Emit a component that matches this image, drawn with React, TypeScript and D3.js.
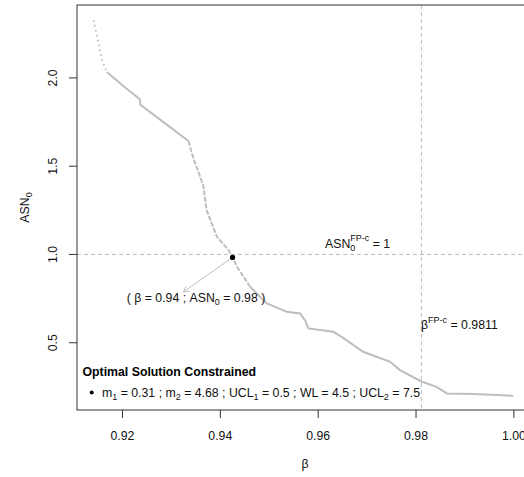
import React from "react";
import * as d3 from "d3";

// ---- data ----
const betaValues = [
  0.9141, 0.9151, 0.9158, 0.9168, 0.9201, 0.9236, 0.9236, 0.9285, 0.9335, 0.9338,
  0.9345, 0.9365, 0.9372, 0.9393, 0.9417, 0.9425, 0.9434, 0.9461, 0.9495, 0.9536,
  0.9563, 0.9573, 0.958, 0.9631, 0.9648, 0.9692, 0.9747, 0.9767, 0.9812, 0.9842,
  0.9863, 0.9917, 0.9978, 0.9999,
];
const asnValues = [
  2.327, 2.195, 2.1, 2.034, 1.956, 1.878, 1.849, 1.747, 1.643, 1.609,
  1.544, 1.392, 1.251, 1.1, 1.024, 0.983, 0.93, 0.817, 0.723, 0.675,
  0.666, 0.628, 0.581, 0.562, 0.533, 0.449, 0.392, 0.345, 0.279, 0.25,
  0.213, 0.209, 0.203, 0.199,
];
// sparse (dotted-looking) stretches of the point cloud, as beta ranges
const sparseRanges: [number, number][] = [[0.9141, 0.9168]];
const semiSparseRanges: [number, number][] = [[0.9335, 0.9461]];

const optimum = { beta: 0.9425, asn: 0.983 };
const arrowEnd = { beta: 0.93246, asn: 0.788 };
const betaFP = 0.9811;
const asnFP = 1;

const xTicks = [0.92, 0.94, 0.96, 0.98, 1.0];
const yTicks = [0.5, 1.0, 1.5, 2.0];

const FONT = "'Liberation Sans', Arial, Helvetica, sans-serif";
const FS = 12.3;
const SUB = 9;

export default function App() {
  const W = 524, H = 477;
  const left = 77, top = 5, bottom = 410, right = 531;
  const x = d3.scaleLinear().domain([0.9107, 1.0035]).range([left, right]);
  const y = d3.scaleLinear().domain([0.119, 2.413]).range([bottom, top]);

  const pts = betaValues.map((b, i) => ({ b, a: asnValues[i] }));
  const styleOf = (b: number) => {
    if (sparseRanges.some(([lo, hi]) => b >= lo && b <= hi)) return "dot";
    if (semiSparseRanges.some(([lo, hi]) => b >= lo && b <= hi)) return "dash";
    return "solid";
  };
  // group consecutive segments by style
  const groups: { style: string; p: { b: number; a: number }[] }[] = [];
  for (let i = 0; i < pts.length - 1; i++) {
    const st = styleOf((pts[i].b + pts[i + 1].b) / 2);
    const g = groups[groups.length - 1];
    if (g && g.style === st) g.p.push(pts[i + 1]);
    else groups.push({ style: st, p: [pts[i], pts[i + 1]] });
  }
  const line = d3
    .line<{ b: number; a: number }>()
    .x((d) => x(d.b))
    .y((d) => y(d.a));
  const dashFor: Record<string, string | undefined> = {
    dot: "1.5,3.5",
    dash: "5,1.5",
    solid: undefined,
  };

  // arrow
  const ox = x(optimum.beta), oy = y(optimum.asn);
  const ax = x(arrowEnd.beta), ay = y(arrowEnd.asn);
  const ang = Math.atan2(ay - oy, ax - ox);
  const hl = 6, ha = Math.PI / 6;
  const h1 = [ax - hl * Math.cos(ang - ha), ay - hl * Math.sin(ang - ha)];
  const h2 = [ax - hl * Math.cos(ang + ha), ay - hl * Math.sin(ang + ha)];

  const grey = "#bebebe";

  return (
    <svg
      width={W}
      height={H}
      style={{ position: "absolute", left: 0, top: 0, background: "#fff" }}
      fontFamily={FONT}
      fontSize={FS}
    >
      <rect x={0} y={0} width={W} height={H} fill="#fff" />
      {/* reference lines */}
      <line x1={left} x2={right} y1={y(asnFP)} y2={y(asnFP)} stroke={grey} strokeDasharray="4,3" />
      <line x1={x(betaFP)} x2={x(betaFP)} y1={top} y2={bottom} stroke={grey} strokeDasharray="4,3" />

      {/* curve */}
      {groups.map((g, i) => (
        <path
          key={i}
          d={line(g.p) || ""}
          fill="none"
          stroke={grey}
          strokeWidth={2}
          strokeDasharray={dashFor[g.style]}
        />
      ))}

      {/* arrow */}
      <line x1={ox} y1={oy} x2={ax} y2={ay} stroke={grey} strokeWidth={1} />
      <polyline
        points={`${h1[0]},${h1[1]} ${ax},${ay} ${h2[0]},${h2[1]}`}
        fill="none"
        stroke={grey}
        strokeWidth={1}
      />
      <circle cx={ox} cy={oy} r={2.6} fill="#000" />

      {/* annotation: optimum */}
      <text x={196} y={302} textAnchor="middle" fill="#111">
        ( β = 0.94 ; ASN
        <tspan fontSize={SUB} dy={3}>0</tspan>
        <tspan dy={-3}> = 0.98 )</tspan>
      </text>

      {/* ASN FP-c */}
      <text x={325} y={248} fill="#111">
        ASN
        <tspan fontSize={SUB} dy={3}>0</tspan>
        <tspan fontSize={SUB} dx={-5} dy={-10}>FP-c</tspan>
        <tspan dy={7}> = 1</tspan>
      </text>

      {/* beta FP-c */}
      <text x={421} y={329} fill="#111">
        β
        <tspan fontSize={SUB} dy={-6}>FP-c</tspan>
        <tspan dy={6}> = 0.9811</tspan>
      </text>

      {/* legend */}
      <text x={82.5} y={376} fontWeight="bold" fill="#000">
        Optimal Solution Constrained
      </text>
      <circle cx={91.7} cy={392.5} r={2} fill="#000" />
      <text x={102} y={397} fill="#111">
        m<tspan fontSize={SUB} dy={3}>1</tspan>
        <tspan dy={-3}> = 0.31 ; m</tspan>
        <tspan fontSize={SUB} dy={3}>2</tspan>
        <tspan dy={-3}> = 4.68 ; UCL</tspan>
        <tspan fontSize={SUB} dy={3}>1</tspan>
        <tspan dy={-3}> = 0.5 ; WL = 4.5 ; UCL</tspan>
        <tspan fontSize={SUB} dy={3}>2</tspan>
        <tspan dy={-3}> = 7.5</tspan>
      </text>

      {/* frame */}
      <rect x={left} y={top} width={right - left} height={bottom - top} fill="none" stroke="#333" />

      {/* x axis */}
      {xTicks.map((t) => (
        <g key={t}>
          <line x1={x(t)} x2={x(t)} y1={bottom} y2={bottom + 8} stroke="#333" />
          <text x={x(t)} y={440} textAnchor="middle" fill="#111">
            {t.toFixed(2)}
          </text>
        </g>
      ))}
      <text x={305} y={468} textAnchor="middle" fill="#111">
        β
      </text>

      {/* y axis */}
      {yTicks.map((t) => (
        <g key={t}>
          <line x1={left - 8} x2={left} y1={y(t)} y2={y(t)} stroke="#333" />
          <text
            transform={`translate(57,${y(t)}) rotate(-90)`}
            textAnchor="middle"
            fill="#111"
          >
            {t.toFixed(1)}
          </text>
        </g>
      ))}
      <text transform={`translate(29,207.5) rotate(-90)`} textAnchor="middle" fill="#111">
        ASN<tspan fontSize={SUB} dy={3}>0</tspan>
      </text>
    </svg>
  );
}
